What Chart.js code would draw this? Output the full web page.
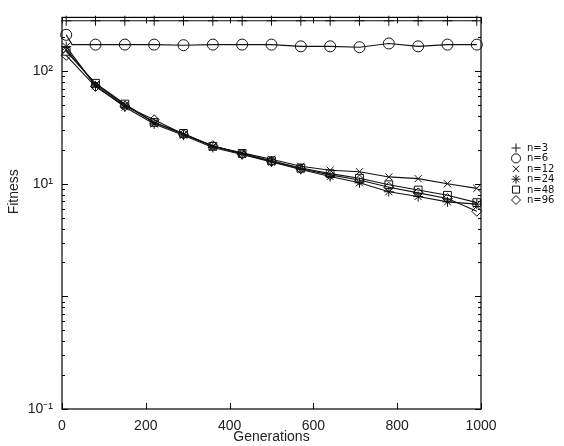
<!DOCTYPE html>
<html><head><meta charset="utf-8">
<script src="https://cdn.jsdelivr.net/npm/chart.js@4.4.1/dist/chart.umd.min.js"></script>
<style>html,body{margin:0;padding:0;background:#fff;overflow:hidden}#wrap{width:564px;height:446px;position:relative}</style>
</head><body><div id="wrap"><canvas id="c" width="564" height="446"></canvas></div>
<script>
// ---- data ----
const seriesNames = ['n=3', 'n=6', 'n=12', 'n=24', 'n=48', 'n=96'];
const generations = [10, 80, 150, 220, 290, 360, 430, 500, 570, 640, 710, 780, 850, 920, 990];
const generationsN6 = [10, 24, 80, 150, 220, 290, 360, 430, 500, 570, 640, 710, 780, 850, 920, 990];
const fitnessN3 = [280, 280, 280, 280, 280, 280, 280, 280, 280, 280, 280, 280, 280, 280, 280];
const fitnessN6 = [210, 172, 172, 172, 172, 170, 172, 172, 172, 166, 166, 163, 176, 166, 172, 172];
const fitnessN12 = [155, 76, 50, 35, 27.5, 21.5, 18.8, 16.5, 14.3, 13.2, 12.8, 11.5, 11.1, 10.0, 9.1];
const fitnessN24 = [165, 74, 48, 34, 27, 21, 18.2, 15.6, 13.4, 11.6, 10.2, 8.5, 7.7, 6.9, 6.6];
const fitnessN48 = [150, 78, 51, 35, 28, 21.5, 18.6, 16.0, 13.8, 12.3, 11.2, 9.8, 8.8, 7.9, 6.8];
const fitnessN96 = [138, 73, 49, 37, 27.5, 21.8, 18.3, 15.8, 13.6, 12.0, 10.8, 9.3, 8.3, 7.4, 5.7];
const xTickValues = [0, 200, 400, 600, 800, 1000];
const xTickLabels = ['0', '200', '400', '600', '800', '1000'];
const yTickValues = [0.1, 10, 100];
const yTickLabels = ['10\u207B\u00B9', '10\u00B9', '10\u00B2'];
const markerStyles = ['cross', 'circle', 'crossRot', 'star', 'rect', 'rectRot'];

const AXIS_FONT = {family: '"Liberation Sans", Arial, sans-serif', size: 14};
const LEGEND_FONT = '10px "DejaVu Sans", sans-serif';

function pts(xs, ys) { return xs.map((x, i) => ({x: x, y: ys[i]})); }
const seriesX = [generations, generationsN6, generations, generations, generations, generations];
const seriesY = [fitnessN3, fitnessN6, fitnessN12, fitnessN24, fitnessN48, fitnessN96];

const datasets = seriesNames.map((name, i) => ({
  label: name,
  data: pts(seriesX[i], seriesY[i]),
  borderColor: '#111',
  borderWidth: 1.1,
  backgroundColor: 'rgba(0,0,0,0)',
  pointBackgroundColor: 'rgba(0,0,0,0)',
  pointBorderColor: '#111',
  pointBorderWidth: 1,
  pointStyle: markerStyles[i],
  pointRadius: (ctx) => (i === 1 && ctx.dataIndex === 1) ? 0 : (markerStyles[i] === 'rect' ? 5.5 : (markerStyles[i] === 'circle' ? 5.5 : 5)),
  tension: 0,
  fill: false,
  clip: false
}));

const framePlugin = {
  id: 'frame',
  beforeDatasetsDraw(chart) {
    const {ctx, chartArea: a, scales} = chart;
    ctx.save();
    ctx.strokeStyle = '#000';
    ctx.lineWidth = 1.2;
    ctx.strokeRect(a.left, a.top, a.right - a.left, a.bottom - a.top);
    ctx.lineWidth = 1;
    ctx.beginPath();
    const ys = scales.y;
    for (let k = -1; k <= 2; k++) {
      for (let m = 1; m <= 9; m++) {
        const v = m * Math.pow(10, k);
        if (v < ys.min || v > ys.max) continue;
        const py = Math.round(ys.getPixelForValue(v)) + 0.5;
        const len = m === 1 ? 6 : 3;
        ctx.moveTo(a.left, py); ctx.lineTo(a.left + len, py);
        ctx.moveTo(a.right, py); ctx.lineTo(a.right - len, py);
      }
    }
    xTickValues.forEach(v => {
      const px = Math.round(scales.x.getPixelForValue(v)) + 0.5;
      ctx.moveTo(px, a.bottom); ctx.lineTo(px, a.bottom - 6);
      ctx.moveTo(px, a.top); ctx.lineTo(px, a.top + 6);
    });
    ctx.stroke();
    ctx.restore();
  }
};

const legendPlugin = {
  id: 'sideLegend',
  afterDraw(chart) {
    const ctx = chart.ctx;
    const mx = 516, tx = 527, y0 = 148, step = 10.4;
    ctx.save();
    chart.data.datasets.forEach((ds, i) => {
      const y = y0 + i * step;
      ctx.strokeStyle = '#111';
      ctx.fillStyle = 'rgba(0,0,0,0)';
      ctx.lineWidth = 1;
      const r = ds.pointStyle === 'rect' ? 5 : 4.5;
      if (Chart.helpers && Chart.helpers.drawPoint) {
        Chart.helpers.drawPoint(ctx, {pointStyle: ds.pointStyle, radius: r, borderWidth: 1, rotation: 0}, mx, y);
      }
      ctx.fillStyle = '#111';
      ctx.font = LEGEND_FONT;
      ctx.textAlign = 'left';
      ctx.textBaseline = 'middle';
      ctx.fillText(ds.label, tx, y + 0.5);
    });
    ctx.restore();
  }
};

new Chart(document.getElementById('c'), {
  type: 'line',
  data: {datasets},
  plugins: [framePlugin, legendPlugin],
  options: {
    responsive: false,
    animation: false,
    events: [],
    layout: {padding: {left: 0, right: 83, top: 10, bottom: 0}},
    plugins: {legend: {display: false}, tooltip: {enabled: false}},
    scales: {
      x: {
        type: 'linear', min: 0, max: 1000,
        afterBuildTicks: (s) => { s.ticks = xTickValues.map(v => ({value: v})); },
        afterFit: (s) => { s.height = 37; },
        ticks: {
          font: AXIS_FONT, color: '#222', padding: 9, maxRotation: 0,
          callback: (v) => { const i = xTickValues.indexOf(v); return i >= 0 ? xTickLabels[i] : ''; }
        },
        grid: {display: false, drawTicks: false},
        border: {display: false},
        title: {display: true, text: 'Generations', font: AXIS_FONT, color: '#222', padding: {top: 0, bottom: 0}}
      },
      y: {
        type: 'logarithmic', min: 0.1, max: 300,
        afterBuildTicks: (s) => { s.ticks = yTickValues.map(v => ({value: v})); },
        afterFit: (s) => { s.width = 62; },
        ticks: {
          autoSkip: false, font: AXIS_FONT, color: '#222', padding: 9,
          callback: (v) => { const i = yTickValues.findIndex(t => Math.abs(t - v) < 1e-9 * Math.max(1, t)); return i >= 0 ? yTickLabels[i] : ''; }
        },
        grid: {display: false, drawTicks: false},
        border: {display: false},
        title: {display: true, text: '           Fitness', font: AXIS_FONT, color: '#222', padding: {top: 6, bottom: 0}}
      }
    }
  }
});
</script>
</body></html>
